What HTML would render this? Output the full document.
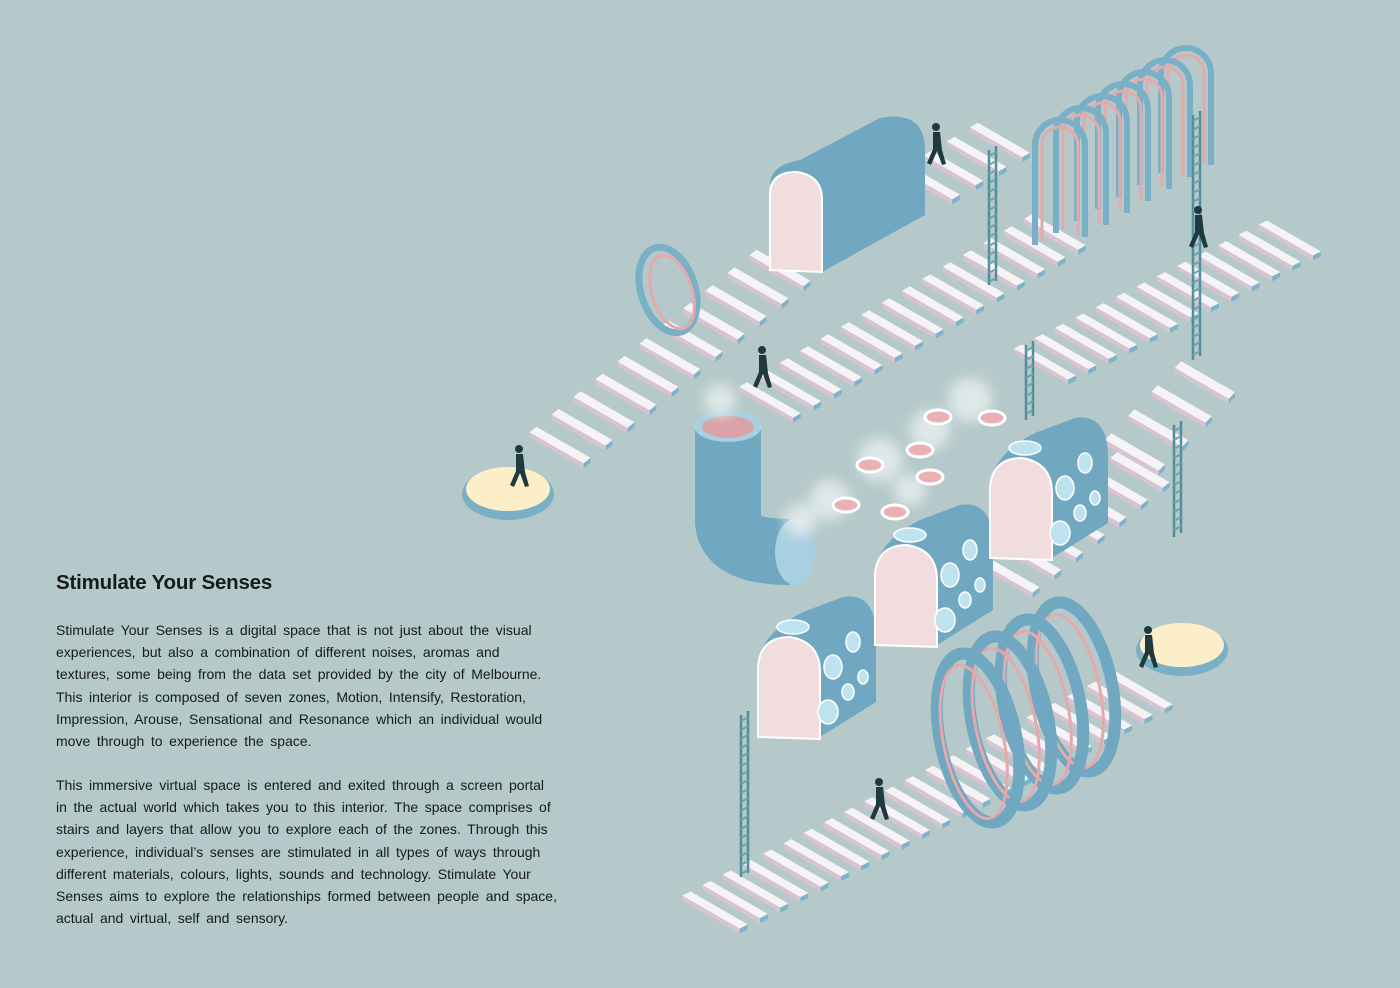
<!DOCTYPE html>
<html><head><meta charset="utf-8"><style>
html,body{margin:0;padding:0}
body{width:1400px;height:988px;background:#b5c9ca;position:relative;overflow:hidden;font-family:"Liberation Sans",sans-serif;color:#151a1a}
h1{position:absolute;left:56px;top:571px;margin:0;font-size:20.5px;font-weight:bold;letter-spacing:-0.2px}
.t{position:absolute;left:56px;font-size:14px;line-height:22.2px;word-spacing:2.7px;white-space:nowrap}
svg{position:absolute;left:0;top:0}
</style></head><body>
<h1>Stimulate Your Senses</h1>
<div class="t" style="top:619px">Stimulate Your Senses is a digital space that is not just about the visual<br>experiences, but also a combination of different noises, aromas and<br>textures, some being from the data set provided by the city of Melbourne.<br>This interior is composed of seven zones, Motion, Intensify, Restoration,<br>Impression, Arouse, Sensational and Resonance which an individual would<br>move through to experience the space.</div>
<div class="t" style="top:774px">This immersive virtual space is entered and exited through a screen portal<br>in the actual world which takes you to this interior. The space comprises of<br>stairs and layers that allow you to explore each of the zones. Through this<br>experience, individual’s senses are stimulated in all types of ways through<br>different materials, colours, lights, sounds and technology. Stimulate Your<br>Senses aims to explore the relationships formed between people and space,<br>actual and virtual, self and sensory.</div>
<svg id="s" width="1400" height="988" viewBox="0 0 1400 988">
<defs><filter id="bl"><feGaussianBlur stdDeviation="6"/></filter></defs>
<g id="stairs"></g>
<ellipse cx="668" cy="290" rx="27" ry="44" transform="rotate(-18 668 290)" fill="none" stroke="#7ab0c6" stroke-width="7"/>
<ellipse cx="672" cy="292" rx="20" ry="38" transform="rotate(-18 672 292)" fill="none" stroke="#e6a9ab" stroke-width="3"/>
<path d="M770,185 Q770,165 800,160 L880,118 Q925,110 925,150 L925,215 L822,272 L822,200 Q815,170 790,172 Z" fill="#6fa8c0"/>
<path d="M770,270 L770,195 Q770,172 796,172 Q822,175 822,200 L822,272 Z" fill="#f1dcde" stroke="#fff" stroke-width="2"/>
<g id="arches"></g>
<path d="M728,430 L728,520 Q728,552 790,552" fill="none" stroke="#6fa8c0" stroke-width="66"/>
<ellipse cx="795" cy="552" rx="20" ry="33" fill="#a8d0e0"/>
<ellipse cx="728" cy="426" rx="34" ry="16" fill="#a8d0e0"/>
<ellipse cx="728" cy="427" rx="26" ry="11" fill="#d9a3a8"/>
<g filter="url(#bl)" fill="#eef2f2" opacity="0.75">
<circle cx="720" cy="400" r="16"/><circle cx="830" cy="500" r="20"/><circle cx="880" cy="460" r="22"/><circle cx="930" cy="430" r="20"/><circle cx="970" cy="400" r="22"/><circle cx="800" cy="520" r="16"/><circle cx="910" cy="490" r="16"/>
</g>
<g fill="#eab1b4" stroke="#fff" stroke-width="3">
<ellipse cx="870" cy="465" rx="13" ry="7"/><ellipse cx="920" cy="450" rx="13" ry="7"/><ellipse cx="930" cy="477" rx="13" ry="7"/><ellipse cx="846" cy="505" rx="13" ry="7"/><ellipse cx="895" cy="512" rx="13" ry="7"/><ellipse cx="938" cy="417" rx="13" ry="7"/><ellipse cx="992" cy="418" rx="13" ry="7"/>
</g>
<g id="pods"></g>
<g id="rings"></g>
<ellipse cx="508" cy="494" rx="46" ry="26" fill="#7ab0c6"/>
<ellipse cx="508" cy="489" rx="42" ry="22" fill="#fbeec8"/>
<ellipse cx="1182" cy="650" rx="46" ry="26" fill="#7ab0c6"/>
<ellipse cx="1182" cy="645" rx="42" ry="22" fill="#fbeec8"/>
<g id="ladders"></g>
<g id="people" fill="#1f3a3f"></g>
</svg>
<script>
var NS="http://www.w3.org/2000/svg";
function el(p,t,a){var e=document.createElementNS(NS,t);for(var k in a)e.setAttribute(k,a[k]);document.getElementById(p).appendChild(e);return e;}
function pts(a){return a.map(function(p){return p[0].toFixed(1)+","+p[1].toFixed(1)}).join(" ");}
function run(x0,y0,x1,y1,n,L){
 var u=[0.87,0.5],dx=x1-x0,dy=y1-y0,d=Math.hypot(dx,dy),v=[dx/d,dy/d],w=9;
 for(var i=n-1;i>=0;i--){
  var cx=x0+dx*i/(n-1),cy=y0+dy*i/(n-1);
  function P(a,b){return [cx+u[0]*a+v[0]*b,cy+u[1]*a+v[1]*b];}
  var p1=P(-L/2,-w/2),p2=P(L/2,-w/2),p3=P(L/2,w/2),p4=P(-L/2,w/2);
  var lo=(v[1]<0)?[p1,p2]:[p4,p3];
  el("stairs","polygon",{points:pts([lo[0],lo[1],[lo[1][0],lo[1][1]+5],[lo[0][0],lo[0][1]+5]]),fill:"#d8c3d3"});
  el("stairs","polygon",{points:pts([p2,p3,[p3[0],p3[1]+5],[p2[0],p2[1]+5]]),fill:"#7fb3c9"});
  el("stairs","polygon",{points:pts([p1,p2,p3,p4]),fill:"#f5f3f5"});
 }
}
run(560,445,780,268,11,62);
run(930,182,1000,140,4,60);
run(770,400,1055,232,15,62);
run(1045,362,1290,238,13,62);
run(1135,452,1205,380,4,62);
run(1215,145,1228,138,1,50);
run(715,910,1140,690,22,66);
run(1010,575,1140,470,7,60);
run(745,745,760,737,1,52);
for(var i=6;i>=0;i--){var ox=1035+i*21,oy=245-i*12,r=25;
 el("arches","path",{d:"M"+ox+","+oy+" L"+ox+","+(oy-100)+" A"+r+","+r+" 0 0 1 "+(ox+50)+","+(oy-100)+" L"+(ox+50)+","+(oy-8),fill:"none",stroke:"#7ab0c6","stroke-width":6});
 el("arches","path",{d:"M"+(ox+7)+","+(oy-3)+" L"+(ox+7)+","+(oy-100)+" A18,18 0 0 1 "+(ox+43)+","+(oy-100)+" L"+(ox+43)+","+(oy-10),fill:"none",stroke:"#e6a9ab","stroke-width":3});
}
function pod(x,y){
 el("pods","path",{d:"M"+x+","+(y-75)+" Q"+(x+5)+","+(y-105)+" "+(x+45)+","+(y-125)+" L"+(x+85)+","+(y-140)+" Q"+(x+118)+","+(y-145)+" "+(x+118)+","+(y-100)+" L"+(x+118)+","+(y-35)+" L"+(x+62)+","+y+" L"+x+","+y+" Z",fill:"#6fa8c0"});
 el("pods","path",{d:"M"+x+","+y+" L"+x+","+(y-70)+" Q"+(x+2)+","+(y-100)+" "+(x+32)+","+(y-100)+" Q"+(x+62)+","+(y-95)+" "+(x+62)+","+(y-65)+" L"+(x+62)+","+(y+2)+" Z",fill:"#f1dcde",stroke:"#fff","stroke-width":2});
 [[75,-70,9,12],[95,-95,7,10],[90,-45,6,8],[70,-25,10,12],[105,-60,5,7],[35,-110,16,7]].forEach(function(h){el("pods","ellipse",{cx:x+h[0],cy:y+h[1],rx:h[2],ry:h[3],fill:"#bfe3ee",stroke:"#fff","stroke-width":1.5});});
}
pod(758,737);pod(875,645);pod(990,558);
for(var i=3;i>=0;i--){var cx=978+i*32,cy=738-i*17;
 el("rings","ellipse",{cx:cx,cy:cy,rx:38,ry:86,transform:"rotate(-12 "+cx+" "+cy+")",fill:"none",stroke:"#6fa8c0","stroke-width":12});
 el("rings","ellipse",{cx:cx-5,cy:cy+3,rx:30,ry:78,transform:"rotate(-12 "+cx+" "+cy+")",fill:"none",stroke:"#e6a9ab","stroke-width":3});
}
function lad(x,y0,y1){el("ladders","line",{x1:x,y1:y0,x2:x,y2:y1,stroke:"#4f8f9c","stroke-width":2.5});el("ladders","line",{x1:x+7,y1:y0-4,x2:x+7,y2:y1-4,stroke:"#4f8f9c","stroke-width":2.5});for(var y=y0+6;y<y1;y+=9)el("ladders","line",{x1:x,y1:y,x2:x+7,y2:y-4,stroke:"#6fa3ad","stroke-width":2});}
lad(989,150,285);lad(1193,115,360);lad(1026,345,420);lad(1174,425,537);lad(741,715,877);
function man(x,y){el("people","circle",{cx:x,cy:y-38,r:4});el("people","path",{d:"M"+(x-3)+","+(y-33)+" L"+(x+4)+","+(y-33)+" L"+(x+6)+","+(y-15)+" L"+(x+10)+","+(y-1)+" L"+(x+6)+","+y+" L"+(x+1)+","+(y-14)+" L"+(x-5)+","+y+" L"+(x-9)+","+(y-2)+" L"+(x-3)+","+(y-16)+" Z"});}
man(936,165);man(762,388);man(879,820);man(1148,668);man(519,487);man(1198,248);
</script>
</body></html>
